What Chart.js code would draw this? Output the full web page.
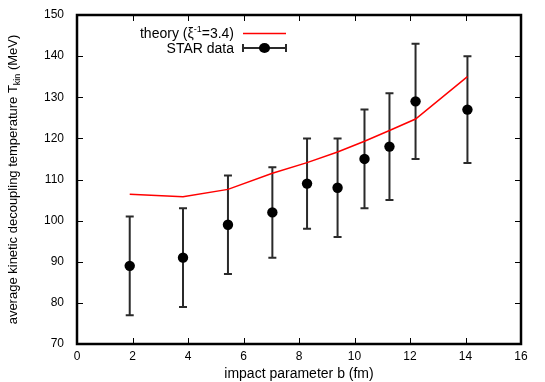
<!DOCTYPE html>
<html>
<head>
<meta charset="utf-8">
<script src="https://cdn.jsdelivr.net/npm/chart.js@4"></script>
<style>
  html, body { margin: 0; padding: 0; background: #fff; }
  #wrap { width: 545px; height: 382px; position: relative; }
</style>
</head>
<body>
<div id="wrap"><canvas id="chart"></canvas></div>
<script>
// impact parameter b (fm) of each centrality bin
const impactB = [1.9, 3.82, 5.44, 7.04, 8.29, 9.39, 10.36, 11.26, 12.2, 14.07];
// STAR data: T_kin (MeV) and symmetric error
const starT = [89, 91, 99, 102, 109, 108, 115, 118, 129, 127];
const starErr = [12, 12, 12, 11, 11, 12, 12, 13, 14, 13];
// theory curve, xi^-1 = 3.4
const theoryT = [106.4, 105.8, 107.6, 111.5, 114.1, 116.7, 119.3, 121.9, 124.7, 135.0];

const xTicks = [0, 2, 4, 6, 8, 10, 12, 14, 16];
const yTicks = [70, 80, 90, 100, 110, 120, 130, 140, 150];

const FONT = '"Liberation Sans", Arial, Helvetica, sans-serif';

// error bars with caps, drawn below the markers
const errorBars = {
    id: 'errorBars',
    beforeDatasetsDraw(chart) {
        const { ctx, scales: { x, y } } = chart;
        ctx.save();
        ctx.strokeStyle = '#2a2a2a';
        ctx.lineWidth = 2;
        impactB.forEach((b, i) => {
            const px = x.getPixelForValue(b);
            const top = y.getPixelForValue(starT[i] + starErr[i]);
            const bot = y.getPixelForValue(starT[i] - starErr[i]);
            ctx.beginPath();
            ctx.moveTo(px, top); ctx.lineTo(px, bot);
            ctx.moveTo(px - 4, top); ctx.lineTo(px + 4, top);
            ctx.moveTo(px - 4, bot); ctx.lineTo(px + 4, bot);
            ctx.stroke();
        });
        ctx.restore();
    }
};

// gnuplot style frame, inward ticks, titles and key
const frame = {
    id: 'frame',
    afterDraw(chart) {
        const { ctx, chartArea: a, scales: { x, y } } = chart;
        ctx.save();
        ctx.strokeStyle = '#000';
        ctx.lineWidth = 1;
        ctx.beginPath();
        xTicks.forEach(v => {
            const px = Math.round(x.getPixelForValue(v)) + 0.5;
            ctx.moveTo(px, a.bottom); ctx.lineTo(px, a.bottom - 6);
            ctx.moveTo(px, a.top); ctx.lineTo(px, a.top + 6);
        });
        yTicks.forEach(v => {
            const py = Math.round(y.getPixelForValue(v)) + 0.5;
            ctx.moveTo(a.left, py); ctx.lineTo(a.left + 6, py);
            ctx.moveTo(a.right, py); ctx.lineTo(a.right - 6, py);
        });
        ctx.stroke();
        ctx.lineWidth = 2.5;
        ctx.strokeRect(a.left, a.top, a.right - a.left, a.bottom - a.top);

        // x title
        ctx.fillStyle = '#000';
        ctx.font = '14px ' + FONT;
        ctx.textAlign = 'center';
        ctx.textBaseline = 'alphabetic';
        ctx.fillText('impact parameter b (fm)', (a.left + a.right) / 2, 378);

        // y title with subscript
        const main1 = 'average kinetic decoupling temperature T';
        const sub = 'kin';
        const main2 = ' (MeV)';
        ctx.font = '13px ' + FONT;
        const w1 = ctx.measureText(main1).width;
        const w3 = ctx.measureText(main2).width;
        ctx.font = '9px ' + FONT;
        const w2 = ctx.measureText(sub).width;
        const total = w1 + w2 + w3;
        ctx.translate(17, (a.top + a.bottom) / 2);
        ctx.rotate(-Math.PI / 2);
        ctx.textAlign = 'left';
        let cx = -total / 2;
        ctx.font = '13px ' + FONT;
        ctx.fillText(main1, cx, 0); cx += w1;
        ctx.font = '9px ' + FONT;
        ctx.fillText(sub, cx, 3); cx += w2;
        ctx.font = '13px ' + FONT;
        ctx.fillText(main2, cx, 0);
        ctx.setTransform(1, 0, 0, 1, 0, 0);

        // key
        const kx = 234, ky1 = 38, ky2 = 53;
        ctx.font = '14px ' + FONT;
        ctx.textAlign = 'left';
        const p1 = 'theory (\u03be', p2 = '-1', p3 = '=3.4)';
        const t1 = ctx.measureText(p1).width, t3 = ctx.measureText(p3).width;
        ctx.font = '9px ' + FONT;
        const t2 = ctx.measureText(p2).width;
        let lx = kx - (t1 + t2 + t3);
        ctx.font = '14px ' + FONT;
        ctx.fillText(p1, lx, ky1); lx += t1;
        ctx.font = '9px ' + FONT;
        ctx.fillText(p2, lx, ky1 - 6); lx += t2;
        ctx.font = '14px ' + FONT;
        ctx.fillText(p3, lx, ky1);
        ctx.textAlign = 'right';
        ctx.fillText('STAR data', kx, ky2);

        ctx.strokeStyle = '#ff0000';
        ctx.lineWidth = 1.5;
        ctx.beginPath();
        ctx.moveTo(243, 33.5); ctx.lineTo(286, 33.5);
        ctx.stroke();

        ctx.strokeStyle = '#2a2a2a';
        ctx.lineWidth = 2;
        ctx.beginPath();
        ctx.moveTo(243, 48); ctx.lineTo(286, 48);
        ctx.moveTo(243, 44); ctx.lineTo(243, 52);
        ctx.moveTo(286, 44); ctx.lineTo(286, 52);
        ctx.stroke();
        ctx.fillStyle = '#000';
        ctx.beginPath();
        ctx.ellipse(264.5, 48, 5.5, 5, 0, 0, Math.PI * 2);
        ctx.fill();
        ctx.restore();
    }
};

new Chart(document.getElementById('chart'), {
    type: 'scatter',
    data: {
        datasets: [
            {
                label: 'theory',
                type: 'line',
                data: impactB.map((b, i) => ({ x: b, y: theoryT[i] })),
                borderColor: '#ff0000',
                borderWidth: 1.5,
                pointRadius: 0,
                tension: 0,
                order: 2
            },
            {
                label: 'STAR data',
                data: impactB.map((b, i) => ({ x: b, y: starT[i] })),
                backgroundColor: '#000',
                borderColor: '#000',
                pointRadius: 5.2,
                pointBorderWidth: 0,
                order: 1
            }
        ]
    },
    options: {
        responsive: true,
        maintainAspectRatio: false,
        animation: false,
        layout: { padding: { left: 0, top: 15, right: 24, bottom: 0 } },
        plugins: { legend: { display: false }, tooltip: { enabled: false } },
        scales: {
            x: {
                type: 'linear',
                min: 0, max: 16,
                afterBuildTicks: s => { s.ticks = xTicks.map(v => ({ value: v })); },
                afterFit: s => { s.height = 38; s.paddingLeft = 0; s.paddingRight = 0; },
                grid: { display: false, drawTicks: false },
                border: { display: false },
                ticks: { color: '#000', padding: 5, font: { family: FONT, size: 12 } }
            },
            y: {
                min: 70, max: 150,
                afterBuildTicks: s => { s.ticks = yTicks.map(v => ({ value: v })); },
                afterFit: s => { s.width = 77; s.paddingTop = 0; s.paddingBottom = 0; },
                grid: { display: false, drawTicks: false },
                border: { display: false },
                ticks: { color: '#000', padding: 13, font: { family: FONT, size: 12 } }
            }
        }
    },
    plugins: [errorBars, frame]
});
</script>
</body>
</html>
